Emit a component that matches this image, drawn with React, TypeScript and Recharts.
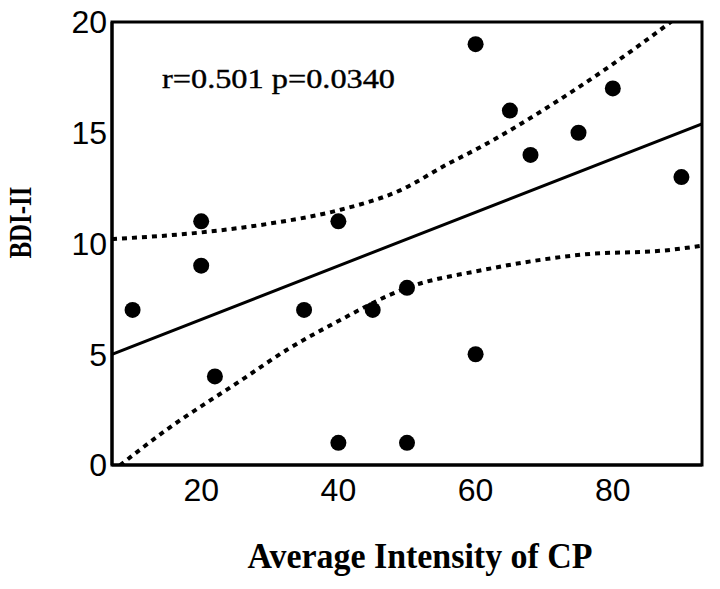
import React from 'react';
import {
  ComposedChart,
  Scatter,
  Line,
  XAxis,
  YAxis,
  ReferenceArea,
} from 'recharts';

// observed points (Average Intensity of CP vs BDI-II)
const points = [
  { x: 10, y: 7 },
  { x: 20, y: 11 },
  { x: 20, y: 9 },
  { x: 22, y: 4 },
  { x: 35, y: 7 },
  { x: 40, y: 11 },
  { x: 40, y: 1 },
  { x: 45, y: 7 },
  { x: 50, y: 8 },
  { x: 50, y: 1 },
  { x: 60, y: 19 },
  { x: 60, y: 5 },
  { x: 65, y: 16 },
  { x: 68, y: 14 },
  { x: 75, y: 15 },
  { x: 80, y: 17 },
  { x: 90, y: 13 },
];

// fitted line
const fitLine = [
  { x: 7, y: 5.0 },
  { x: 93, y: 15.4 },
];

// 95% band, upper and lower
const upperBand = [
  { x: 7, y: 10.2 },
  { x: 20, y: 10.5 },
  { x: 30, y: 10.9 },
  { x: 40, y: 11.5 },
  { x: 49, y: 12.4 },
  { x: 56, y: 13.6 },
  { x: 61, y: 14.4 },
  { x: 71, y: 16.25 },
  { x: 80, y: 18.1 },
  { x: 88, y: 19.9 },
  { x: 93, y: 21.1 },
];

const lowerBand = [
  { x: 7, y: -0.3 },
  { x: 15, y: 1.6 },
  { x: 25.7, y: 3.8 },
  { x: 32.5, y: 5.2 },
  { x: 40, y: 6.5 },
  { x: 50, y: 8.0 },
  { x: 61, y: 8.8 },
  { x: 75.6, y: 9.5 },
  { x: 88, y: 9.7 },
  { x: 93, y: 9.9 },
];

const xTicks = [20, 40, 60, 80];
const yTicks = [0, 5, 10, 15, 20];

const SERIF = '"Liberation Serif", "Times New Roman", serif';
const SANS = '"Liberation Sans", Arial, sans-serif';

const tickStyle = { fontFamily: SANS, fontSize: 32, fill: '#000' };

export default function App() {
  return (
    <div style={{ width: 720, height: 589, background: '#fff' }}>
      <style>{`body{margin:0}`}</style>
      <ComposedChart
        width={720}
        height={589}
        margin={{ top: 22, right: 18, left: 0, bottom: 0 }}
      >
        <XAxis
          type="number"
          dataKey="x"
          domain={[7, 93]}
          ticks={xTicks}
          allowDataOverflow
          tickLine={false}
          tickSize={0}
          tickMargin={13}
          height={124}
          axisLine={{ stroke: '#000', strokeWidth: 3 }}
          tick={tickStyle}
          label={{
            content: (props: any) => {
              const vb = props.viewBox;
              return (
                <text
                  x={vb.x + vb.width / 2 + 13}
                  y={vb.y + vb.height - 21}
                  textAnchor="middle"
                  fontFamily={SERIF}
                  fontWeight="bold"
                  fontSize={36}
                  textLength={345}
                  lengthAdjust="spacingAndGlyphs"
                  fill="#000"
                >
                  Average Intensity of CP
                </text>
              );
            },
          }}
        />
        <YAxis
          type="number"
          dataKey="y"
          domain={[0, 20]}
          ticks={yTicks}
          allowDataOverflow
          tickLine={false}
          tickSize={0}
          tickMargin={5}
          width={112}
          axisLine={{ stroke: '#000', strokeWidth: 3 }}
          tick={tickStyle}
          label={{
            content: (props: any) => {
              const vb = props.viewBox;
              const cx = 31;
              const cy = vb.y + vb.height / 2 - 21;
              return (
                <text
                  x={cx}
                  y={cy}
                  transform={`rotate(-90 ${cx} ${cy})`}
                  textAnchor="middle"
                  fontFamily={SERIF}
                  fontWeight="bold"
                  fontSize={32}
                  textLength={72}
                  lengthAdjust="spacingAndGlyphs"
                  fill="#000"
                >
                  BDI-II
                </text>
              );
            },
          }}
        />
        <ReferenceArea
          x1={7}
          x2={93}
          y1={0}
          y2={20}
          fill="none"
          stroke="#000"
          strokeWidth={3}
          fillOpacity={0}
          label={{
            content: (props: any) => {
              const vb = props.viewBox;
              return (
                <text
                  x={vb.x + 50}
                  y={vb.y + 66}
                  fontFamily={SERIF}
                  fontSize={28}
                  stroke="#000"
                  strokeWidth={0.4}
                  textLength={233}
                  lengthAdjust="spacingAndGlyphs"
                  fill="#000"
                >
                  r=0.501 p=0.0340
                </text>
              );
            },
          }}
        />
        <Line
          data={upperBand}
          dataKey="y"
          type="monotone"
          stroke="#000"
          strokeWidth={4}
          strokeDasharray="5 5"
          dot={false}
          activeDot={false}
          isAnimationActive={false}
        />
        <Line
          data={lowerBand}
          dataKey="y"
          type="monotone"
          stroke="#000"
          strokeWidth={4}
          strokeDasharray="5 5"
          dot={false}
          activeDot={false}
          isAnimationActive={false}
        />
        <Line
          data={fitLine}
          dataKey="y"
          type="linear"
          stroke="#000"
          strokeWidth={3}
          dot={false}
          activeDot={false}
          isAnimationActive={false}
        />
        <Scatter
          data={points}
          dataKey="y"
          fill="#000"
          shape={(p: any) => <circle cx={p.cx} cy={p.cy} r={8} fill="#000" />}
          isAnimationActive={false}
        />
      </ComposedChart>
    </div>
  );
}
